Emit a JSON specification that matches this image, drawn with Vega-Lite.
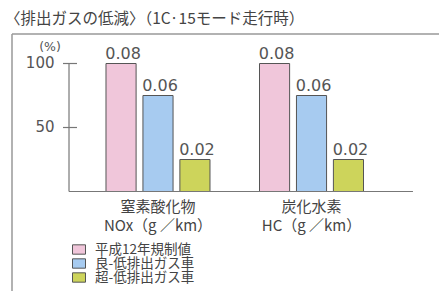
{
  "$schema": "https://vega.github.io/schema/vega-lite/v6.json",
  "width": 427,
  "height": 257,
  "padding": {"left": 12, "top": 34, "right": 0, "bottom": 0},
  "autosize": {"type": "none"},
  "background": "white",
  "title": {
    "text": "〈排出ガスの低減〉（1C·15モード走行時）",
    "anchor": "start",
    "frame": "group",
    "font": "Noto Sans CJK JP",
    "fontSize": 15.5,
    "fontWeight": "normal",
    "color": "#444444",
    "offset": 6,
    "dx": -7
  },
  "data": {
    "values": [
      {"gas": "窒素酸化物|NOx（g ／km）", "type": "平成12年規制値", "pct": 100, "label": "0.08"},
      {"gas": "窒素酸化物|NOx（g ／km）", "type": "良-低排出ガス車", "pct": 75, "label": "0.06"},
      {"gas": "窒素酸化物|NOx（g ／km）", "type": "超-低排出ガス車", "pct": 25, "label": "0.02"},
      {"gas": "炭化水素|HC（g ／km）", "type": "平成12年規制値", "pct": 100, "label": "0.08"},
      {"gas": "炭化水素|HC（g ／km）", "type": "良-低排出ガス車", "pct": 75, "label": "0.06"},
      {"gas": "炭化水素|HC（g ／km）", "type": "超-低排出ガス車", "pct": 25, "label": "0.02"}
    ]
  },
  "layer": [
    {
      "encoding": {
        "x": {
          "field": "gas",
          "type": "nominal",
          "sort": null,
          "scale": {"paddingInner": 0.3225, "paddingOuter": 0.552, "align": 0.5546},
          "axis": {
            "orient": "bottom",
            "offset": -99.5,
            "domain": false,
            "ticks": false,
            "grid": false,
            "title": null,
            "labelAngle": 0,
            "labelPadding": 8,
            "labelFont": "Noto Sans CJK JP",
            "labelFontSize": 15,
            "labelColor": "#444444",
            "labelLineHeight": 19,
            "labelExpr": "split(datum.label, '|')"
          }
        },
        "xOffset": {
          "field": "type",
          "sort": null,
          "scale": {"paddingInner": 0.185, "paddingOuter": 0}
        },
        "y": {
          "field": "pct",
          "type": "quantitative",
          "scale": {"domain": [-77.73, 123.05], "nice": false, "zero": false},
          "axis": {
            "orient": "left",
            "offset": -57,
            "values": [50, 100],
            "domain": false,
            "ticks": false,
            "grid": false,
            "labelPadding": 15,
            "labelOffset": -1,
            "labelFont": "DejaVu Sans",
            "labelFontSize": 15,
            "labelColor": "#555555",
            "title": "(%)",
            "titleAngle": 0,
            "titleX": -19.5,
            "titleY": 12,
            "titleAlign": "center",
            "titleBaseline": "middle",
            "titleFont": "DejaVu Sans",
            "titleFontSize": 12.5,
            "titleFontWeight": "normal",
            "titleColor": "#555555"
          }
        }
      },
      "layer": [
        {
          "mark": {"type": "bar", "stroke": "#555555", "strokeWidth": 1},
          "encoding": {
            "y2": {"datum": 0},
            "color": {
              "field": "type",
              "type": "nominal",
              "sort": null,
              "scale": {
                "domain": ["平成12年規制値", "良-低排出ガス車", "超-低排出ガス車"],
                "range": ["#f0c6da", "#a7cbf0", "#cdd45b"]
              },
              "legend": {
                "orient": "none",
                "legendX": 60,
                "legendY": 208.5,
                "title": null,
                "padding": 0,
                "symbolType": "M-1,-0.72H1V0.72H-1Z",
                "symbolSize": 169,
                "symbolStrokeColor": "#555555",
                "symbolStrokeWidth": 1,
                "symbolOpacity": 1,
                "labelFont": "Noto Sans CJK JP",
                "labelFontSize": 13.5,
                "labelColor": "#444444",
                "labelOffset": 9,
                "rowPadding": 0
              }
            }
          }
        },
        {
          "mark": {
            "type": "text",
            "baseline": "alphabetic",
            "align": "center",
            "dy": -5,
            "dx": 2,
            "font": "DejaVu Sans",
            "fontSize": 16,
            "color": "#555555"
          },
          "encoding": {
            "text": {"field": "label"}
          }
        }
      ]
    },
    {
      "layer": [
        {
          "data": {"values": [{"k": 1}]},
          "mark": {"type": "rule", "color": "#999999", "strokeWidth": 1.5},
          "encoding": {
            "x": {"datum": 0, "type": "quantitative", "scale": {"domain": [0, 100], "nice": false, "zero": false}, "axis": null},
            "x2": {"datum": 100},
            "y": {"datum": 123.05, "type": "quantitative", "scale": {"domain": [-77.73, 123.05], "nice": false, "zero": false}}
          }
        },
        {
          "data": {"values": [{"k": 1}]},
          "mark": {"type": "rule", "color": "#999999", "strokeWidth": 1.5},
          "encoding": {
            "x": {"datum": 0, "type": "quantitative", "scale": {"domain": [0, 100], "nice": false, "zero": false}, "axis": null},
            "y": {"datum": -77.73, "type": "quantitative", "scale": {"domain": [-77.73, 123.05], "nice": false, "zero": false}},
            "y2": {"datum": 123.05}
          }
        },
        {
          "data": {"values": [{"k": 1}]},
          "mark": {"type": "rule", "color": "#777777", "strokeWidth": 1.2},
          "encoding": {
            "x": {"datum": 13.35, "type": "quantitative", "scale": {"domain": [0, 100], "nice": false, "zero": false}, "axis": null},
            "y": {"datum": 0, "type": "quantitative", "scale": {"domain": [-77.73, 123.05], "nice": false, "zero": false}},
            "y2": {"datum": 100}
          }
        },
        {
          "data": {"values": [{"k": 1}]},
          "mark": {"type": "rule", "color": "#777777", "strokeWidth": 1.2},
          "encoding": {
            "x": {"datum": 13.35, "type": "quantitative", "scale": {"domain": [0, 100], "nice": false, "zero": false}, "axis": null},
            "x2": {"datum": 93.9},
            "y": {"datum": 0, "type": "quantitative", "scale": {"domain": [-77.73, 123.05], "nice": false, "zero": false}}
          }
        },
        {
          "data": {"values": [{"tick": 50}, {"tick": 100}]},
          "mark": {"type": "rule", "color": "#777777", "strokeWidth": 1.2},
          "encoding": {
            "x": {"datum": 11.94, "type": "quantitative", "scale": {"domain": [0, 100], "nice": false, "zero": false}, "axis": null},
            "x2": {"datum": 15.22},
            "y": {"field": "tick", "type": "quantitative", "scale": {"domain": [-77.73, 123.05], "nice": false, "zero": false}}
          }
        }
      ]
    }
  ],
  "resolve": {"scale": {"x": "independent"}, "axis": {"x": "independent"}},
  "config": {
    "view": {"stroke": null},
    "axis": {"labelFont": "Noto Sans CJK JP"}
  }
}
